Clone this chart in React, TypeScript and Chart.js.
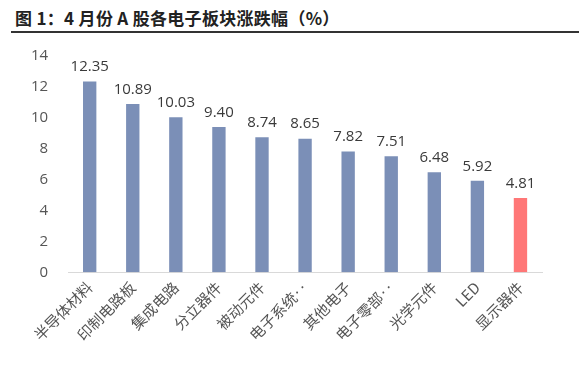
import React, { useEffect, useRef } from "react";
import { Chart, registerables } from "chart.js";

Chart.register(...registerables);

const categories = ["半导体材料", "印制电路板", "集成电路", "分立器件", "被动元件", "电子系统‥", "其他电子", "电子零部‥", "光学元件", "LED", "显示器件"];
const values = [12.35, 10.89, 10.03, 9.4, 8.74, 8.65, 7.82, 7.51, 6.48, 5.92, 4.81];
const barColors = ["#7b8fb7", "#7b8fb7", "#7b8fb7", "#7b8fb7", "#7b8fb7", "#7b8fb7", "#7b8fb7", "#7b8fb7", "#7b8fb7", "#7b8fb7", "#ff7777"];
const yTicks = [0, 2, 4, 6, 8, 10, 12, 14];
const titleText = "图 1：4 月份 A 股各电子板块涨跌幅（%）";

const labelPlugin = {
  id: "barLabels",
  afterDatasetsDraw(chart: any) {
    const ctx = chart.ctx;
    const meta = chart.getDatasetMeta(0);
    ctx.save();
    ctx.font = "15px 'Open Sans', 'Liberation Sans', sans-serif";
    ctx.fillStyle = "#3a3a3a";
    ctx.textAlign = "center";
    ctx.textBaseline = "bottom";
    meta.data.forEach((bar: any, i: number) => {
      ctx.fillText(values[i].toFixed(2), bar.x, bar.y - 7);
    });
    ctx.restore();
  },
};

export default function App() {
  const ref = useRef<HTMLCanvasElement>(null);
  useEffect(() => {
    const chart = new Chart(ref.current!, {
      type: "bar",
      data: {
        labels: categories,
        datasets: [
          {
            data: values,
            backgroundColor: barColors,
            barPercentage: 0.62,
            categoryPercentage: 0.5,
          },
        ],
      },
      options: {
        animation: false,
        responsive: false,
        layout: { padding: { top: 56, right: 46, left: 11, bottom: 24 } },
        plugins: { legend: { display: false }, tooltip: { enabled: false } },
        scales: {
          x: {
            grid: { display: false, drawTicks: false },
            border: { display: true, color: "#d9d9d9", width: 1 },
            ticks: {
              minRotation: 45,
              maxRotation: 45,
              padding: 6,
              color: "#555555",
              font: { family: "'Noto Sans CJK SC', sans-serif", size: 15 },
            },
          },
          y: {
            min: 0,
            max: 14,
            afterBuildTicks: (axis: any) => {
              axis.ticks = yTicks.map((v) => ({ value: v }));
            },
            grid: { display: false, drawTicks: false },
            border: { display: false },
            ticks: {
              padding: 20,
              color: "#555555",
              font: { family: "'Open Sans', 'Liberation Sans', sans-serif", size: 15 },
            },
          },
        },
      },
      plugins: [labelPlugin],
    });
    return () => chart.destroy();
  }, []);
  return (
    <div style={{ position: "fixed", left: 0, top: 0, width: 588, height: 374, background: "#fff" }}>
      <div
        style={{
          position: "absolute",
          left: 15,
          top: 5,
          fontFamily: "'Noto Sans CJK SC', sans-serif",
          fontWeight: "bold",
          fontSize: 17,
          letterSpacing: 0.3,
          color: "#222",
          whiteSpace: "nowrap",
        }}
      >
        {titleText}
      </div>
      <div style={{ position: "absolute", left: 11, top: 31, width: 568, height: 2, background: "#333" }} />
      <canvas ref={ref} width={588} height={374} style={{ position: "absolute", left: 0, top: 0 }} />
    </div>
  );
}
